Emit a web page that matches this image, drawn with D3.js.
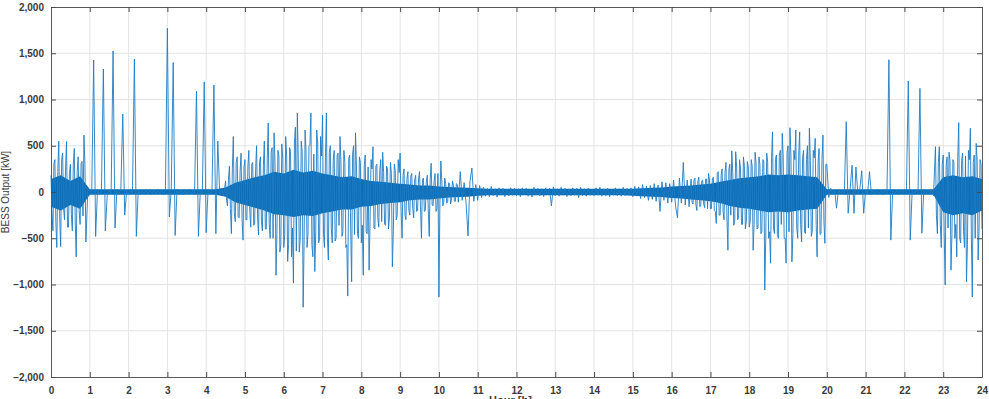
<!DOCTYPE html>
<html>
<head>
<meta charset="utf-8">
<script src="https://cdn.jsdelivr.net/npm/d3@7"></script>
<style>
  body { margin: 0; background: #fff; }
  svg { display: block; font-family: "Liberation Sans", Arial, sans-serif; }
</style>
</head>
<body>
<div id="chart"></div>
<script>
// BESS output [kW], one sample every 0.05 h (20 samples per hour)
var nightKw = [
  180, -420, 350, -600, 550, -590, 420, -300, 545, -380, 300, -420, 470, -700, 380, -350, 330, 615, -540, 40,
  25, -20, 1427, -480, 30, -25, 20, 1330, -420, -30, 25, -20, 1525, -390, 30, -25, 20, 843, -250, 20,
  -25, 30, -20, 1437, -480, 25, -30, 20, -25, 30, -20, 25, -30, 20, -25, 30, -20, 25, -30, 20,
  1770, -270, 25, 1400, -470, 30, -25, 20, -30, 25, -20, 30, -25, 20, -30, 1090, -480, 25, -20, 1190,
  -440, 30, -25, 20, 1157, -450, 550, -30, 25, -40, 120, -150, 280, -450, 600, -320, 380, -280, 420, -520
];
var morningKw = [
  350, -300, 450, -380, 320, -350, 500, -465, 380, -420, 550, -400, 745, -500, 480, 640, -900, 450, -650, 520,
  -600, 600, -750, 480, -700, -985, 700, 854, -650, 550, -1245, 670, -600, 500, 854, -700, -860, 670, -550, 600,
  830, -600, 854, -735, 500, -550, 450, -500, 420, 600, -480, 450, -600, -1125, 400, -970, 500, 640, -450, 380,
  -550, -900, 400, -450, -845, 350, 490, -400, 300, -380, 350, 430, -350, 280, -400, 320, -810, 300, -300, 350,
  420, -500, 250, -300, 220, -250, 200, -280, 180, -200, 220, -500, 150, -200, 180, -480, 310, -150, 200, -180,
  -1135, 335, -150, 150, -120, 100, -130, 120, -100, 90, -110, 220, -90, 100, -120, -475, 110, 260, -100, 80
];
var middayKw = [
  -90, 70, -60, 50, -45, 40, -50, 60, -40, 35, -55, 45, -35, 40, -50, 30, -40, 45, -35, 40,
  -40, 35, -50, 45, -30, 40, -45, 30, -55, 50, -35, 40, -40, 35, -50, 45, -30, 40, -150, 55,
  -40, 35, -45, 50, -35, 40, -50, 30, -40, 45, -35, 40, -60, 50, -40, 35, -45, 40, -35, 30,
  -40, 45, -35, 50, -45, 35, -40, 40, -50, 30, -35, 45, -40, 35, -45, 50, -40, 40, -35, 45
];
var eveningKw = [
  -50, 60, -45, 55, -70, 80, -60, 65, -90, 70, -80, 90, -100, 75, -210, 110, -90, 100, -120, 90,
  -110, 130, -150, -280, 150, -120, 320, -140, 130, -160, 140, -130, 150, -200, 160, -150, 130, -170, 140, 200,
  -180, 150, -200, -340, 220, -250, 250, -300, 320, -630, 300, 445, -360, 435, -300, 350, -350, 380, -400, 330,
  -380, 350, -630, 430, -400, 380, -450, 350, -1060, 420, -500, -770, 650, -450, 400, -500, 450, 635, -500, -770,
  500, 695, -755, 450, 670, -500, 650, -540, 450, -450, 500, 690, -480, 450, 580, -700, 470, -450, 615, -555
];
var lateKw = [
  300, -60, 40, -30, 25, -175, 30, -25, 20, -30, 760, -230, 25, 290, -230, 270, -20, 30, 230, -230,
  25, -20, 220, -30, 25, -20, 30, -25, 20, -30, 25, -20, 1430, -520, 30, -25, 20, -30, 25, -20,
  30, -25, 1200, -520, 20, -30, 25, -20, 1120, -445, 30, -25, 20, -30, 25, -40, 490, -450, 490, -600,
  400, -1005, 380, 430, -845, 350, -500, -700, 750, -550, 420, -600, -970, 450, 690, -1135, 400, 525, -735, 350,
  -400
];
var stepH = 0.05;

// in-between samples of the busy stretches (offset by half a step), with their first hour
var extraNightStart = 0.025;
var extraNightKw = [-220, 300, -330, 220, -280, 350, -180, 260, -380, 200, -240, 300, -330, 220, -200, 310, -260, 280];
var extraMorningStart = 4.525;
var extraMorningKw = [
  -90, 140, -180, 250, -220, 320, -270, 220, -290, 270,
  -300, 270, -220, 300, -360, 250, -270, 320, -320, 290,
  -400, 360, -340, 430, -500, 320, -430, 390, -570, 360,
  -460, 390, -570, 440, -390, 530, -640, 360, -500, 440,
  -530, 430, -460, 510, -570, 410, -430, 530, -500, 390,
  -460, 370, -500, 430, -390, 340, -530, 390, -360, 320,
  -430, 320, -570, 360, -390, 410, -460, 280, -500, 320,
  -360, 280, -430, 270, -320, 250, -390, 280, -280, 230,
  -320, 210, -360, 250, -270, 200, -430, 230, -250, 210,
  -210, 180, -250, 140, -200, 170, -180, 130, -210, 140,
  -160, 130, -210, 110, -180, 140, -140, 110, -210, 200,
  -130, 110, -110, 90, -110, 90, -90, 70, -100, 80
];
var extraEveningStart = 16.525;
var extraEveningKw = [
  -110, 130, -140, 110, -160, 120, -130, 140, -180, 130,
  -180, 160, -210, 200, -250, 180, -210, 210, -280, 250,
  -250, 210, -320, 270, -280, 250, -350, 280, -320, 270,
  -320, 280, -350, 320, -390, 300, -430, 340, -500, 320,
  -430, 370, -390, 350, -460, 400, -350, 390, -500, 430,
  -430, 390, -460, 350, -390, 410, -350, 370, -430, 350,
  -390, 340, -430, 370, -350, 320, -460, 350, -320, 300
];
var extraLateStart = 22.825;
var extraLateKw = [-250, 320, -350, 300, -430, 280, -390, 340, -460, 320, -350, 370, -500, 340, -430, 390, -570, 350, -460, 320, -500, 340, -390, 300];

// dense core of the trace (where the blue is solid), every 0.25 h
var coreHiKw = [
  140, 180, 120, 170,  30, 30, 30, 30,  30, 30, 30, 30,  30, 30, 30, 30,
  30, 30, 50, 100,  130, 160, 180, 220,  200, 240, 210, 230,  200, 180, 160, 170,
  140, 120, 110, 100,  90, 80, 70, 70,  60, 55, 50, 45,  40, 35, 35, 35,
  35, 35, 35, 35,  35, 35, 35, 35,  35, 35, 35, 35,  35, 40, 45, 50,
  60, 65, 70, 80,  90, 110, 130, 150,  160, 170, 190, 180,  190, 180, 170, 160,
  30, 30, 30, 30,  30, 30, 30, 30,  30, 30, 30, 30,  160, 180, 160, 170,  140
];
var coreLoKw = [
  -160, -200, -140, -180,  -30, -30, -30, -30,  -30, -30, -30, -30,  -30, -30, -30, -30,
  -30, -30, -50, -110,  -140, -170, -200, -240,  -250, -270, -250, -260,  -230, -210, -190, -190,
  -160, -150, -130, -120,  -110, -90, -80, -80,  -70, -60, -55, -50,  -40, -35, -35, -35,
  -35, -35, -35, -35,  -35, -35, -35, -35,  -35, -35, -35, -35,  -40, -45, -50, -55,
  -65, -70, -80, -90,  -100, -120, -150, -170,  -180, -200, -220, -210,  -220, -200, -190, -180,
  -30, -30, -30, -30,  -30, -30, -30, -30,  -30, -30, -30, -30,  -220, -250, -230, -250,  -200
];
var coreStepH = 0.25;

var xTicks = [0,1,2,3,4,5,6,7,8,9,10,11,12,13,14,15,16,17,18,19,20,21,22,23,24];
var yTicks = [-2000, -1500, -1000, -500, 0, 500, 1000, 1500, 2000];

function samples(values, start) {
  return values.map(function (v, i) { return {h: start + i * stepH, kw: v}; });
}
var bessKw = nightKw.concat(morningKw, middayKw, eveningKw, lateKw);
var data = samples(bessKw, 0)
  .concat(samples(extraNightKw, extraNightStart))
  .concat(samples(extraMorningKw, extraMorningStart))
  .concat(samples(extraEveningKw, extraEveningStart))
  .concat(samples(extraLateKw, extraLateStart))
  .sort(function (a, b) { return a.h - b.h; });
var core = coreHiKw.map(function (v, i) { return {h: i * coreStepH, hi: v, lo: coreLoKw[i]}; });

var width = 989, height = 399;
var margin = {top: 7, right: 7, bottom: 22, left: 51};
var innerW = width - margin.left - margin.right;
var innerH = height - margin.top - margin.bottom;

var svg = d3.select("#chart").append("svg")
  .attr("width", width)
  .attr("height", height);

var x = d3.scaleLinear().domain([0, 24]).range([margin.left, margin.left + innerW]);
var y = d3.scaleLinear().domain([-2000, 2000]).range([margin.top + innerH, margin.top]);

// grid
svg.append("g").selectAll("line.vx")
  .data(xTicks.slice(1, -1)).enter().append("line")
  .attr("x1", function (d) { return x(d); }).attr("x2", function (d) { return x(d); })
  .attr("y1", margin.top).attr("y2", margin.top + innerH)
  .attr("stroke", "#e3e3e3").attr("stroke-width", 1);
svg.append("g").selectAll("line.hy")
  .data(yTicks.slice(1, -1)).enter().append("line")
  .attr("x1", margin.left).attr("x2", margin.left + innerW)
  .attr("y1", function (d) { return y(d); }).attr("y2", function (d) { return y(d); })
  .attr("stroke", "#e3e3e3").attr("stroke-width", 1);

// solid core of the signal
var coreArea = d3.area()
  .x(function (d) { return x(d.h); })
  .y0(function (d) { return y(d.lo); })
  .y1(function (d) { return y(d.hi); });

svg.append("path")
  .datum(core)
  .attr("fill", "#0a6fb8")
  .attr("d", coreArea);

// signal
var line = d3.line()
  .x(function (d) { return x(d.h); })
  .y(function (d) { return y(d.kw); });

svg.append("path")
  .datum(data)
  .attr("fill", "none")
  .attr("stroke", "#1f7cc3")
  .attr("stroke-width", 0.9)
  .attr("d", line);

// axes, MATLAB style: ticks inward on all four sides
function styleAxis(g) {
  g.select(".domain").attr("stroke", "#5a5a5a");
  g.selectAll(".tick line").attr("stroke", "#4a4a4a");
  g.selectAll(".tick text")
    .attr("fill", "#3a3a3a")
    .attr("font-size", "10px")
    .attr("font-weight", "bold");
}

var fmt = d3.format(",");

svg.append("g")
  .attr("transform", "translate(0," + (margin.top + innerH) + ")")
  .call(d3.axisBottom(x).tickValues(xTicks).tickSize(-5).tickPadding(10).tickSizeOuter(0))
  .call(styleAxis);
svg.append("g")
  .attr("transform", "translate(0," + margin.top + ")")
  .call(d3.axisTop(x).tickValues(xTicks).tickSize(-5).tickFormat("").tickSizeOuter(0))
  .call(styleAxis);
svg.append("g")
  .attr("transform", "translate(" + margin.left + ",0)")
  .call(d3.axisLeft(y).tickValues(yTicks).tickSize(-5).tickPadding(7).tickFormat(fmt).tickSizeOuter(0))
  .call(styleAxis);
svg.append("g")
  .attr("transform", "translate(" + (margin.left + innerW) + ",0)")
  .call(d3.axisRight(y).tickValues(yTicks).tickSize(-5).tickFormat("").tickSizeOuter(0))
  .call(styleAxis);

// axis titles
svg.append("text")
  .attr("x", x(12) - 6)
  .attr("y", 404)
  .attr("text-anchor", "middle")
  .attr("font-size", "11px")
  .attr("font-weight", "bold")
  .attr("fill", "#3a3a3a")
  .text("Hour [h]");

svg.append("text")
  .attr("transform", "translate(9," + y(0) + ") rotate(-90)")
  .attr("text-anchor", "middle")
  .attr("font-size", "10px")
  .attr("fill", "#3a3a3a")
  .text("BESS Output [kW]");
</script>
</body>
</html>
